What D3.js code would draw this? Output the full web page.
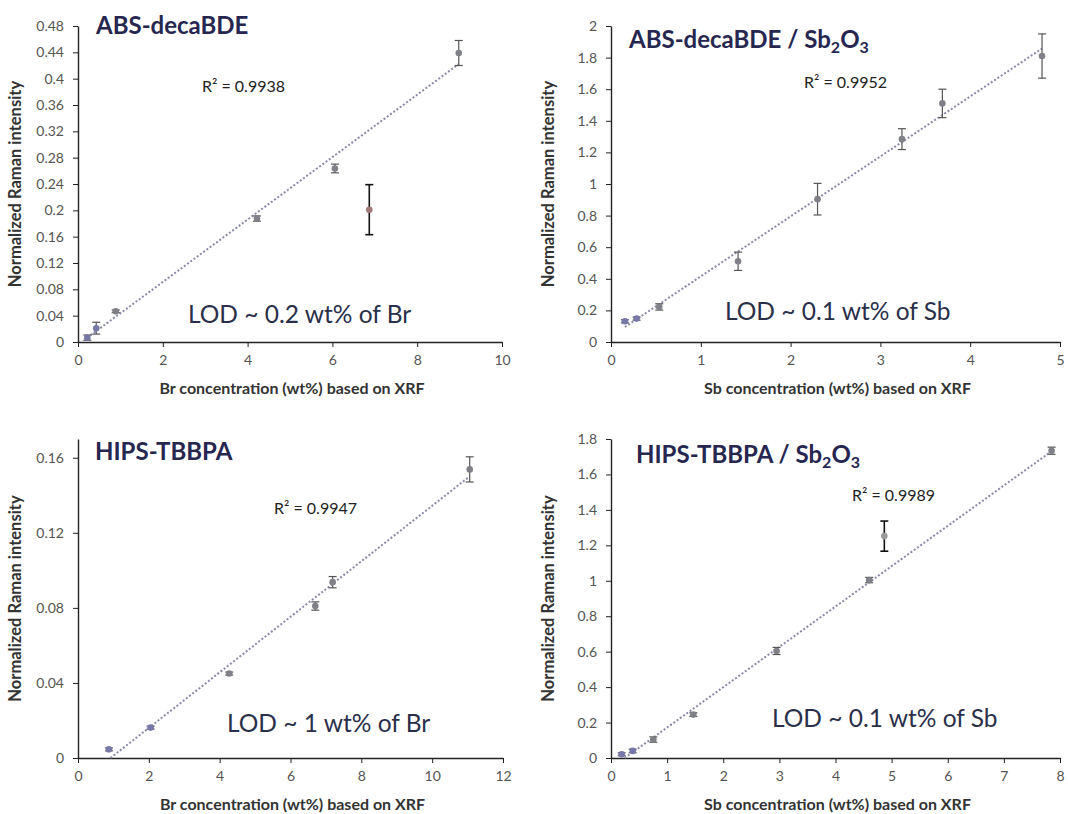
<!DOCTYPE html>
<html>
<head>
<meta charset="utf-8">
<script src="https://cdn.jsdelivr.net/npm/d3@7"></script>
<style>
  body { margin: 0; background: #fff; }
  svg text { font-family: Lato, "Open Sans", sans-serif; }
  .tick text { fill: #555; font-size: 14px; }
  .tick line, .domain { stroke: #222; }
</style>
</head>
<body>
<div id="chart"></div>
<script>
// ---- data ----
// ABS-decaBDE
var absBrX   = [0.22, 0.43, 0.89, 4.22, 6.06, 6.87, 8.98];
var absBrY   = [0.0066, 0.021, 0.0466, 0.1875, 0.2636, 0.201, 0.439];
var absBrErr = [0.004, 0.009, 0.002, 0.004, 0.0066, 0.038, 0.019];
var absBrOut = [5];          // point left out of the fit
// ABS-decaBDE / Sb2O3
var absSbX   = [0.155, 0.285, 0.537, 1.415, 2.30, 3.24, 3.69, 4.80];
var absSbY   = [0.131, 0.148, 0.222, 0.511, 0.904, 1.284, 1.51, 1.81];
var absSbErr = [0.01, 0.01, 0.02, 0.058, 0.1, 0.066, 0.09, 0.14];
var absSbOut = [];
// HIPS-TBBPA
var hipsBrX   = [0.873, 2.05, 4.27, 6.70, 7.19, 11.06];
var hipsBrY   = [0.0046, 0.0162, 0.045, 0.081, 0.0937, 0.1538];
var hipsBrErr = [0.0008, 0.0008, 0.0008, 0.0022, 0.003, 0.0067];
var hipsBrOut = [];
// HIPS-TBBPA / Sb2O3
var hipsSbX   = [0.19, 0.386, 0.754, 1.467, 2.95, 4.60, 4.87, 7.85];
var hipsSbY   = [0.021, 0.04, 0.104, 0.245, 0.604, 1.004, 1.252, 1.734];
var hipsSbErr = [0.008, 0.01, 0.015, 0.01, 0.02, 0.015, 0.085, 0.02];
var hipsSbOut = [6];

var rSquared  = ["0.9938", "0.9952", "0.9947", "0.9989"];
var lodText   = ["LOD ~ 0.2 wt% of Br", "LOD ~ 0.1 wt% of Sb", "LOD ~ 1 wt% of Br", "LOD ~ 0.1 wt% of Sb"];
var xLabels   = ["Br concentration (wt%) based on XRF", "Sb concentration (wt%) based on XRF",
                 "Br concentration (wt%) based on XRF", "Sb concentration (wt%) based on XRF"];
var yTicks1 = [0, 0.04, 0.08, 0.12, 0.16, 0.2, 0.24, 0.28, 0.32, 0.36, 0.4, 0.44, 0.48];
var yTicks2 = [0, 0.2, 0.4, 0.6, 0.8, 1, 1.2, 1.4, 1.6, 1.8, 2];
var yTicks3 = [0, 0.04, 0.08, 0.12, 0.16];
var yTicks4 = [0, 0.2, 0.4, 0.6, 0.8, 1, 1.2, 1.4, 1.6, 1.8];
var xTicks1 = [0, 2, 4, 6, 8, 10];
var xTicks2 = [0, 1, 2, 3, 4, 5];
var xTicks3 = [0, 2, 4, 6, 8, 10, 12];
var xTicks4 = [0, 1, 2, 3, 4, 5, 6, 7, 8];

var svg = d3.select("#chart").append("svg")
  .attr("width", 1068)
  .attr("height", 814);

// panel layout (pixels of the plot area)
var panels = [
  { x: absBrX, y: absBrY, err: absBrErr, out: absBrOut, xd: [0, 10], yd: [0, 0.48], xt: xTicks1, yt: yTicks1,
    left: 78, right: 502, top: 26, bottom: 342, title: ["ABS-decaBDE"], tx: 96, ty: 34,
    rx: 202, ry: 92, lx: 188, ly: 323 },
  { x: absSbX, y: absSbY, err: absSbErr, out: absSbOut, xd: [0, 5], yd: [0, 2], xt: xTicks2, yt: yTicks2,
    left: 611, right: 1060, top: 26, bottom: 342, title: ["ABS-decaBDE / Sb", "2", "O", "3"], tx: 629, ty: 48,
    rx: 804, ry: 88, lx: 725, ly: 320 },
  { x: hipsBrX, y: hipsBrY, err: hipsBrErr, out: hipsBrOut, xd: [0, 12], yd: [0, 0.17], xt: xTicks3, yt: yTicks3,
    left: 78, right: 503, top: 439, bottom: 758, title: ["HIPS-TBBPA"], tx: 95, ty: 460,
    rx: 274, ry: 514, lx: 227, ly: 732 },
  { x: hipsSbX, y: hipsSbY, err: hipsSbErr, out: hipsSbOut, xd: [0, 8], yd: [0, 1.8], xt: xTicks4, yt: yTicks4,
    left: 611, right: 1060, top: 439, bottom: 758, title: ["HIPS-TBBPA / Sb", "2", "O", "3"], tx: 636, ty: 463,
    rx: 852, ry: 501, lx: 772, ly: 727 }
];

panels.forEach(function(p, i) {
  var g = svg.append("g");
  var x = d3.scaleLinear().domain(p.xd).range([p.left, p.right]);
  var y = d3.scaleLinear().domain(p.yd).range([p.bottom, p.top]);

  g.append("g")
    .attr("transform", `translate(0, ${p.bottom})`)
    .call(d3.axisBottom(x).tickValues(p.xt).tickSize(5).tickSizeOuter(0).tickPadding(8).tickFormat(d3.format("")))
    .call(a => a.select(".domain").attr("stroke-width", 1.4));

  g.append("g")
    .attr("transform", `translate(${p.left}, 0)`)
    .call(d3.axisLeft(y).tickValues(p.yt).tickSize(5).tickSizeOuter(0).tickPadding(9).tickFormat(d3.format("")))
    .call(a => a.select(".domain").attr("stroke-width", 1.4));

  var pts = p.x.map((v, j) => ({ x: v, y: p.y[j], e: p.err[j], out: p.out.indexOf(j) >= 0 }));

  // least-squares trendline over the fitted points
  var fit = pts.filter(d => !d.out);
  var mx = d3.mean(fit, d => d.x), my = d3.mean(fit, d => d.y);
  var slope = d3.sum(fit, d => (d.x - mx) * (d.y - my)) / d3.sum(fit, d => (d.x - mx) * (d.x - mx));
  var icpt = my - slope * mx;
  var x0 = Math.max(d3.min(fit, d => d.x), -icpt / slope);
  var x1 = d3.max(fit, d => d.x);
  g.append("line")
    .attr("x1", x(x0)).attr("y1", y(icpt + slope * x0))
    .attr("x2", x(x1)).attr("y2", y(icpt + slope * x1))
    .attr("stroke", "#8a8aa8")
    .attr("stroke-width", 2)
    .attr("stroke-dasharray", "2,2");

  // error bars
  var eb = g.selectAll(".eb").data(pts).enter().append("g");
  eb.append("line")
    .attr("x1", d => x(d.x)).attr("x2", d => x(d.x))
    .attr("y1", d => y(d.y - d.e)).attr("y2", d => y(d.y + d.e));
  eb.append("line")
    .attr("x1", d => x(d.x) - 4).attr("x2", d => x(d.x) + 4)
    .attr("y1", d => y(d.y + d.e)).attr("y2", d => y(d.y + d.e));
  eb.append("line")
    .attr("x1", d => x(d.x) - 4).attr("x2", d => x(d.x) + 4)
    .attr("y1", d => y(d.y - d.e)).attr("y2", d => y(d.y - d.e));
  eb.selectAll("line")
    .attr("stroke", d => d.out ? "#111" : "#555")
    .attr("stroke-width", d => d.out ? 1.6 : 1.2);

  // markers
  g.selectAll(".pt").data(pts).enter().append("circle")
    .attr("cx", d => x(d.x))
    .attr("cy", d => y(d.y))
    .attr("r", 3.3)
    .attr("fill", (d, j) => d.out ? (i === 0 ? "#a07878" : "#9a9a9a") : (j < 2 ? "#7878a8" : "#808088"));

  // panel title with subscripts
  var t = g.append("text")
    .attr("x", p.tx).attr("y", p.ty)
    .attr("font-size", 24).attr("font-weight", "bold")
    .attr("fill", "#262650");
  p.title.forEach(function(s, k) {
    var ts = t.append("tspan").text(s);
    if (k % 2 === 1) ts.attr("font-size", 16).attr("dy", 5);
    else if (k > 0) ts.attr("dy", -5);
  });

  g.append("text")
    .attr("x", p.rx).attr("y", p.ry)
    .attr("font-size", 16).attr("fill", "#222")
    .text("R² = " + rSquared[i]);

  g.append("text")
    .attr("x", p.lx).attr("y", p.ly)
    .attr("font-size", 24.5).attr("fill", "#2a2f4a")
    .text(lodText[i]);

  g.append("text")
    .attr("x", (p.left + p.right) / 2 + 2).attr("y", p.bottom + 52)
    .attr("text-anchor", "middle")
    .attr("font-size", 16).attr("font-weight", "bold").attr("fill", "#333")
    .text(xLabels[i]);

  g.append("text")
    .attr("transform", `translate(${p.left - 57}, ${(p.top + p.bottom) / 2}) rotate(-90)`)
    .attr("text-anchor", "middle")
    .attr("font-size", 16.5).attr("font-weight", "bold").attr("fill", "#333")
    .text("Normalized Raman intensity");
});
</script>
</body>
</html>
